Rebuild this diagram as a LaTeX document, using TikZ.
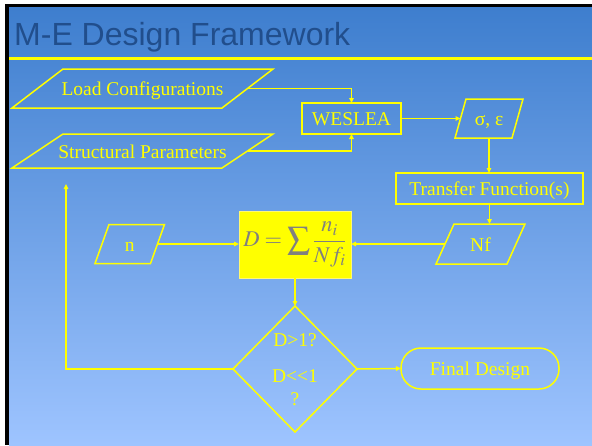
\documentclass[tikz,border=0pt]{standalone}
\usepackage{mathptmx}
\usepackage{fontspec}
\setmainfont{Liberation Serif}
\newfontfamily\headfont{Liberation Sans}
\usetikzlibrary{arrows.meta,calc}

\definecolor{bgtop}{RGB}{62,126,206}
\definecolor{bgbot}{RGB}{158,196,255}
\definecolor{titleblue}{RGB}{33,78,140}
\definecolor{formgray}{RGB}{128,128,128}
\definecolor{flowyellow}{RGB}{255,255,0}

% outline of a slanted (data) box around an invisible slot node
\newcommand\slantframe[2]{%
  \draw[frame] ([xshift=-#2pt]#1.south west) -- ([xshift=-#2pt]#1.south east)
    -- ([xshift=#2pt]#1.north east) -- ([xshift=#2pt]#1.north west) -- cycle;}

\tikzset{
  frame/.style={draw=flowyellow, line width=1.5pt, line join=miter},
  label/.style={text=flowyellow, font=\fontsize{19.5}{23}\selectfont},
  slot/.style={label, shape=rectangle, inner sep=0pt, outer sep=0pt,
    text height=14pt, text depth=0pt},
  procbox/.style={slot, frame},
  flow/.style={draw=flowyellow, line width=1.5pt,
    -{Triangle[length=5pt,width=4.5pt]}},
}

\begin{document}
\begin{tikzpicture}[x=1pt,y=-1pt]
\useasboundingbox (0,0) rectangle (592,445);

% slide background, dark frame and header rule
\fill[white] (0,0) rectangle (592,445);
\fill[black] (5,4) rectangle (592,445);
\shade[top color=bgtop, bottom color=bgbot] (9,7) rectangle (592,445);
\draw[flowyellow, line width=2.6pt] (9,58.5) -- (592,58.5);

\node[anchor=base west, inner sep=0pt, text=titleblue,
      font=\headfont\fontsize{32}{38}\selectfont] (title) at (14,45) {M-E Design Framework};

% inputs
\node[slot, minimum width=210pt, minimum height=39pt] (lc) at (142.5,88.5) {Load Configurations};
\slantframe{lc}{25.5}
\node[slot, minimum width=210pt, minimum height=34pt] (sp) at (142.5,151) {Structural Parameters};
\slantframe{sp}{25.5}

% analysis chain
\node[procbox, minimum width=99pt, minimum height=31pt] (wes) at (351.5,118.5) {WESLEA};
\node[slot, minimum width=57pt, minimum height=39pt] (se) at (489,118.5) {σ, ε};
\slantframe{se}{5.5}
\node[procbox, minimum width=187pt, minimum height=31pt] (tf) at (489.5,188.5) {Transfer Function(s)};
\node[slot, minimum width=71pt, minimum height=40pt] (nf) at (480.5,244) {Nf};
\slantframe{nf}{9}
\node[slot, minimum width=55.5pt, minimum height=39pt] (n) at (129.75,244) {n};
\slantframe{n}{7}

% damage sum
\node[shape=rectangle, fill=flowyellow, draw=yellow!55!white, line width=1pt,
      minimum width=112pt, minimum height=67pt, inner sep=0pt, outer sep=0pt,
      text=formgray, font=\fontsize{22.5}{27}\selectfont] (dbox) at (295,244.5)
      {$\displaystyle D=\sum\frac{n_i}{Nf_i}$};

% decision
\node[slot, minimum width=124pt, minimum height=126pt] (dia) at (295,369) {};
\draw[frame] (dia.north) -- (dia.east) -- (dia.south) -- (dia.west) -- cycle;
\node[label, anchor=base] (q1) at (295,346) {D>1?};
\node[label, anchor=base] (q2) at (295,382) {D<{}<1};
\node[label, anchor=base] (q3) at (295,405) {?};

\node[procbox, rounded corners=20pt, minimum width=158pt, minimum height=41pt] (fd) at (480,368.5) {Final Design};

% connectors
\draw[flow] (lc.east) -| (wes.north);
\draw[flow] (sp.east) -| (wes.south);
\draw[flow] (wes.east) -- (se.west);
\draw[flow] (se.south) -- (se.south |- tf.north);
\draw[flow] (tf.south) -- (tf.south |- nf.north);
\draw[flow] (nf.west) -- (nf.west -| dbox.east);
\draw[flow] (n.east) -- (n.east -| dbox.west);
\draw[flow] (dbox.south) -- (dia.north);
\draw[flow] (dia.east) -- (fd.west);
\coordinate (back) at (66,184);
\draw[flow] (dia.west) -| (back);
\end{tikzpicture}
\end{document}
